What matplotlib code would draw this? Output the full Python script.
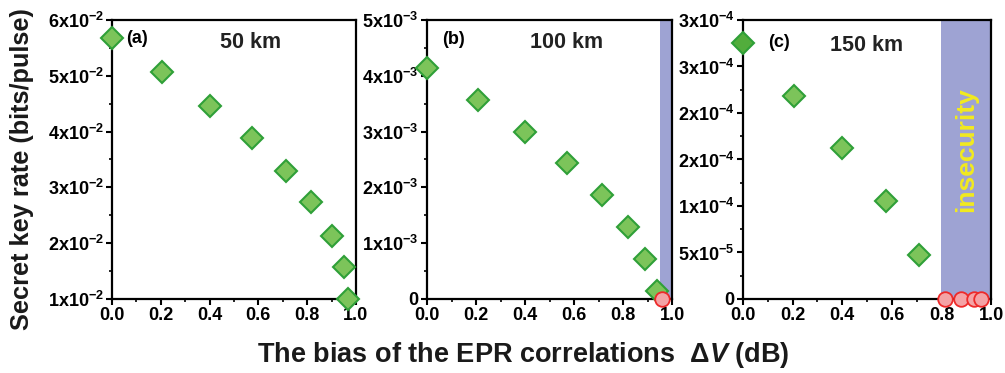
import numpy as np
import matplotlib.pyplot as plt
from matplotlib.ticker import MultipleLocator, FixedLocator, FixedFormatter

plt.rcParams.update({
    "font.family": ["Liberation Sans", "DejaVu Sans"],
    "font.weight": "bold",
    "mathtext.fontset": "custom",
    "mathtext.rm": "Liberation Sans:bold",
    "mathtext.bf": "Liberation Sans:bold",
    "mathtext.it": "Liberation Sans:italic:bold",
})

# -------------------- DATA --------------------
# (a) 50 km
xa = [0.0, 0.205, 0.40, 0.575, 0.715, 0.815, 0.90, 0.95, 0.967]
ya = [5.68e-2, 5.07e-2, 4.46e-2, 3.88e-2, 3.29e-2, 2.73e-2, 2.13e-2, 1.57e-2, 1.0e-2]

# (b) 100 km
xb = [0.0, 0.21, 0.40, 0.57, 0.715, 0.82, 0.89, 0.94]
yb = [4.14e-3, 3.57e-3, 3.0e-3, 2.43e-3, 1.86e-3, 1.29e-3, 0.71e-3, 0.14e-3]
xb_bad = [0.96]
yb_bad = [0.0]
b_insecure = 0.95

# (c) 150 km
xc = [0.0, 0.205, 0.40, 0.575, 0.71]
yc = [2.75e-4, 2.18e-4, 1.62e-4, 1.05e-4, 0.47e-4]
xc_bad = [0.815, 0.88, 0.93, 0.96]
yc_bad = [0.0, 0.0, 0.0, 0.0]
c_insecure = 0.80

yticks_a = [1e-2, 2e-2, 3e-2, 4e-2, 5e-2, 6e-2]
ylabels_a = [r"%dx10$^{-2}$" % k for k in range(1, 7)]
yticks_b = [0, 1e-3, 2e-3, 3e-3, 4e-3, 5e-3]
ylabels_b = ["0"] + [r"%dx10$^{-3}$" % k for k in range(1, 6)]
yticks_c = [0, 5e-5, 1e-4, 1.5e-4, 2e-4, 2.5e-4, 3e-4]
ylabels_c = ["0", r"5x10$^{-5}$", r"1x10$^{-4}$", r"2x10$^{-4}$",
             r"2x10$^{-4}$", r"3x10$^{-4}$", r"3x10$^{-4}$"]

GREEN_FACE = "#7cc45a"
GREEN_EDGE = "#2fa038"
RED_FACE = "#f4a3a6"
RED_EDGE = "#ee2a2a"
SHADE = "#9ea3d3"

fig = plt.figure(figsize=(10.05, 3.73), dpi=100)
axa = fig.add_axes([0.1114, 0.1984, 0.2428, 0.748])
axb = fig.add_axes([0.4249, 0.1984, 0.2438, 0.748])
axc = fig.add_axes([0.7393, 0.1984, 0.2468, 0.748])


def style(ax, yticks, ylabels, ylim, minor_y):
    ax.set_xlim(0, 1.0)
    ax.set_ylim(*ylim)
    ax.xaxis.set_major_locator(MultipleLocator(0.2))
    ax.xaxis.set_minor_locator(MultipleLocator(0.1))
    ax.yaxis.set_major_locator(FixedLocator(yticks))
    ax.yaxis.set_major_formatter(FixedFormatter(ylabels))
    ax.yaxis.set_minor_locator(FixedLocator(minor_y))
    ax.set_xticklabels(["%.1f" % v for v in ax.get_xticks()])
    for s in ax.spines.values():
        s.set_linewidth(1.6)
    ax.tick_params(which="major", direction="out", length=4, width=1.5,
                   labelsize=13, pad=2)
    ax.tick_params(which="minor", direction="out", length=2.5, width=1.2)
    for lab in ax.get_xticklabels() + ax.get_yticklabels():
        lab.set_fontweight("bold")


def diamonds(ax, x, y, face=GREEN_FACE):
    ax.plot(x, y, linestyle="none", marker="D", ms=11, mfc=face,
            mec=GREEN_EDGE, mew=1.5, clip_on=False, zorder=5)


def circles(ax, x, y):
    ax.plot(x, y, linestyle="none", marker="o", ms=10.5, mfc=RED_FACE,
            mec=RED_EDGE, mew=1.3, clip_on=False, zorder=6)


# (a)
style(axa, yticks_a, ylabels_a, (1e-2, 6e-2),
      [1.5e-2, 2.5e-2, 3.5e-2, 4.5e-2, 5.5e-2])
diamonds(axa, xa, ya)
axa.text(0.06, 0.935, "(a)", transform=axa.transAxes, fontsize=13,
         fontweight="bold", va="center")
axa.text(0.57, 0.92, "50 km", transform=axa.transAxes, fontsize=15.5,
         fontweight="bold", va="center", ha="center", color="#222222")

# (b)
style(axb, yticks_b, ylabels_b, (0, 5e-3),
      [0.5e-3, 1.5e-3, 2.5e-3, 3.5e-3, 4.5e-3])
axb.axvspan(b_insecure, 1.0, color=SHADE, lw=0, zorder=0)
diamonds(axb, xb, yb)
circles(axb, xb_bad, yb_bad)
axb.text(0.06, 0.93, "(b)", transform=axb.transAxes, fontsize=13,
         fontweight="bold", va="center")
axb.text(0.57, 0.92, "100 km", transform=axb.transAxes, fontsize=15.5,
         fontweight="bold", va="center", ha="center", color="#222222")

# (c)
style(axc, yticks_c, ylabels_c, (0, 3e-4),
      [2.5e-5, 7.5e-5, 1.25e-4, 1.75e-4, 2.25e-4, 2.75e-4])
axc.axvspan(c_insecure, 1.0, color=SHADE, lw=0, zorder=0)
diamonds(axc, xc[:1], yc[:1], face="#52ad3c")
diamonds(axc, xc[1:], yc[1:])
circles(axc, xc_bad, yc_bad)
axc.text(0.10, 0.92, "(c)", transform=axc.transAxes, fontsize=13,
         fontweight="bold", va="center")
axc.text(0.50, 0.91, "150 km", transform=axc.transAxes, fontsize=15.5,
         fontweight="bold", va="center", ha="center", color="#222222")
axc.text((c_insecure + 1.0) / 2, 0.535, "insecurity", transform=axc.transAxes,
         rotation=90, fontsize=19, fontweight="bold", color="#f2ea1e",
         ha="center", va="center")

fig.text(0.022, 0.547, "Secret key rate (bits/pulse)", rotation=90,
         fontsize=18.3, fontweight="bold", ha="center", va="center",
         color="#1a1a1a")
fig.text(0.521, 0.048, r"The bias of the EPR correlations  $\Delta V$ (dB)",
         fontsize=19.5, fontweight="bold", ha="center", va="center",
         color="#1a1a1a")

fig.savefig("out.png", dpi=100)
